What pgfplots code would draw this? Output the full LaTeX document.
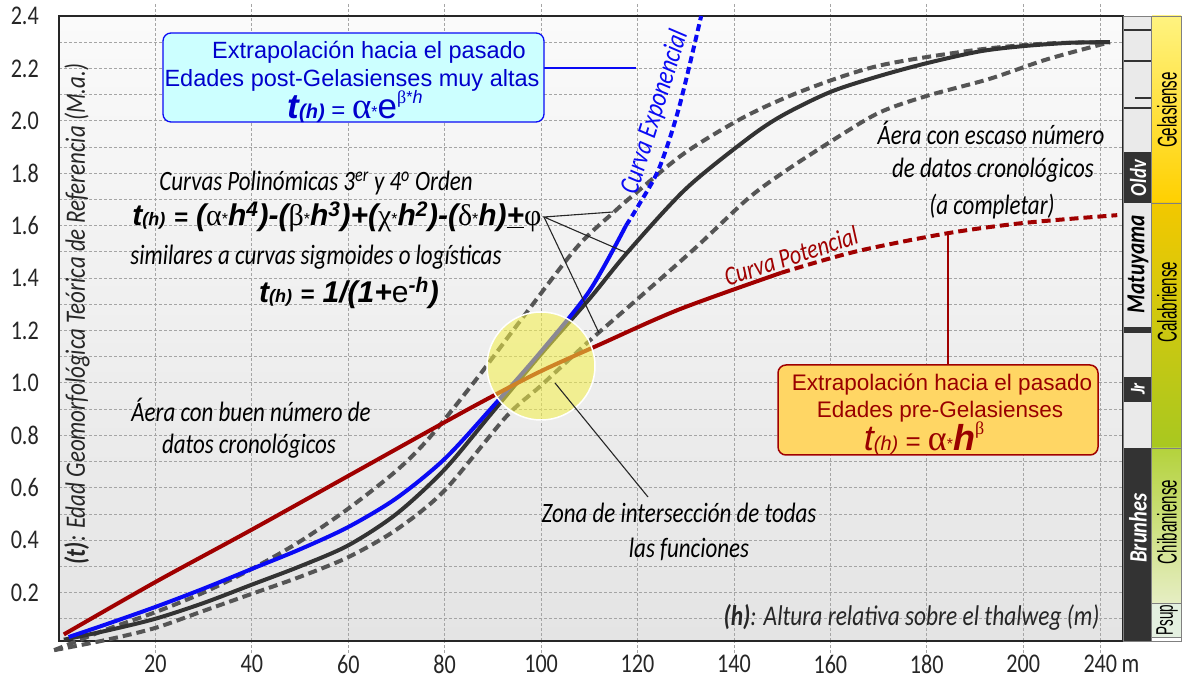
\documentclass[border=0pt]{standalone}
\usepackage{pgfplots}
\pgfplotsset{compat=1.18}
\usepackage{pgfplotstable}
\usepackage{fontspec}
\usepackage{graphicx}
\setmainfont[FakeStretch=0.82]{Carlito}
\newfontfamily\arial{Liberation Sans}
\newfontfamily\narrow[FakeStretch=0.56]{Liberation Sans}
\newfontfamily\greek{Liberation Serif}
\newcommand\fs[1]{\fontsize{#1}{#1}\selectfont}
\newcommand\gk[1]{{\greek\mdseries\upshape #1}}
\newcommand\mult{{\arial\mdseries\upshape\fs{16}\raisebox{1pt}{*}}}

\definecolor{bgtop}{RGB}{250,250,250}
\definecolor{bgbot}{RGB}{228,228,228}
\definecolor{gridc}{RGB}{165,165,165}
\definecolor{polyg}{RGB}{85,85,85}
\definecolor{sigk}{RGB}{51,51,51}
\definecolor{potred}{RGB}{160,0,0}
\definecolor{expblue}{RGB}{10,10,245}
\definecolor{boxblue}{RGB}{0,0,204}
\definecolor{boxcyan}{RGB}{204,255,255}
\definecolor{boxorange}{RGB}{255,214,100}
\definecolor{boxred}{RGB}{153,0,0}
\definecolor{magk}{RGB}{51,51,51}
\definecolor{magl}{RGB}{234,234,234}
\definecolor{gelt}{RGB}{255,243,128}
\definecolor{gelb}{RGB}{255,208,0}
\definecolor{calt}{RGB}{242,200,0}
\definecolor{calb}{RGB}{168,200,32}
\definecolor{chit}{RGB}{180,210,60}
\definecolor{chib}{RGB}{230,238,195}
\definecolor{psup}{RGB}{228,240,224}

% h (m) versus t (M.a.)
\pgfplotstableread{
h t
1 0.02
10 0.055
20 0.10
30 0.16
40 0.23
50 0.30
60 0.38
70 0.50
80 0.67
90 0.89
100 1.11
110 1.32
118 1.50
130 1.74
142.7 1.93
150 2.02
160 2.11
170 2.17
180 2.22
191 2.265
200 2.285
210 2.298
218 2.30
}\sigmoid

\pgfplotstableread{
h t
-1 -0.02
10 0.06
20 0.125
30 0.20
40 0.29
50 0.395
60 0.52
70 0.665
76.8 0.79
86.4 1.01
95 1.22
107.3 1.515
115 1.65
120 1.73
130 1.88
142.7 2.02
155 2.12
170 2.21
190 2.27
205 2.295
218 2.30
}\polyA

\pgfplotstableread{
h t
-1 -0.02
10 0.02
20 0.065
30 0.13
40 0.195
50 0.26
60 0.335
70 0.44
80 0.59
92.7 0.87
100 0.99
110 1.16
120 1.32
132 1.515
142.7 1.70
150 1.80
160 1.92
170 2.03
180 2.095
193 2.16
205 2.235
218 2.30
}\polyB

\pgfplotstableread{
h t
2 0.03
10 0.08
20 0.145
30 0.215
40 0.29
50 0.365
60 0.45
70 0.56
80 0.71
90 0.91
100 1.12
110 1.35
117.6 1.60
}\expsolid

\pgfplotstableread{
h t
117.6 1.60
120.3 1.68
124.5 1.82
128.6 2.05
133.2 2.40
}\expdash

\pgfplotstableread{
h t
1 0.04
20 0.24
40 0.44
60 0.645
80 0.85
90 0.95
100 1.045
112 1.145
128.6 1.28
149.8 1.42
}\powsolid

\pgfplotstableread{
h t
149.8 1.42
165 1.50
184 1.57
200 1.61
219.5 1.64
}\powdash

\begin{document}
\begin{tikzpicture}
\begin{axis}[
  scale only axis, width=1064pt, height=625pt,
  xmin=0, xmax=220.7, ymin=0.015, ymax=2.4,
  clip=false,
  axis line style={draw=black!85, line width=1.6pt},
  axis background/.style={shade, top color=bgtop, bottom color=bgbot},
  xtick={20,40,60,80,100,120,140,160,180,200,216},
  xticklabels={20,40,60,80,100,120,140,160,180,200,{240\rlap{\,m}}},
  ytick={0.2,0.4,0.6,0.8,1.0,1.2,1.4,1.6,1.8,2.0,2.2,2.4},
  yticklabels={0.2,0.4,0.6,0.8,1.0,1.2,1.4,1.6,1.8,2.0,2.2,2.4},
  minor ytick={0.1,0.3,0.5,0.7,0.9,1.1,1.3,1.5,1.7,1.9,2.1,2.3},
  grid=both,
  grid style={gridc, dash pattern=on 3pt off 2pt, line width=0.8pt},
  major grid style={gridc, dash pattern=on 3pt off 2pt, line width=0.8pt},
  minor grid style={gridc, dash pattern=on 3pt off 2pt, line width=0.8pt},
  xtick align=outside,
  major tick length=12pt, minor tick length=0pt,
  xtick style={gridc, dash pattern=on 3pt off 2pt, line width=0.8pt},
  ytick style={draw=none},
  xticklabel style={font=\fs{27}, text=black!85, anchor=north, inner sep=0pt, yshift=-2pt},
  yticklabel style={font=\fs{27}, text=black!85, anchor=east, inner sep=0pt, xshift=-20pt},
]
\addplot[polyg, line width=4pt, dash pattern=on 9pt off 5pt, smooth] table {\polyA};
\addplot[polyg, line width=4pt, dash pattern=on 9pt off 5pt, smooth] table {\polyB};
\addplot[sigk, line width=4pt, smooth] table {\sigmoid};
\addplot[expblue, line width=4pt, smooth] table {\expsolid};
\addplot[expblue, line width=4pt, dash pattern=on 7pt off 4pt, smooth] table {\expdash};
\addplot[potred, line width=4pt, smooth] table {\powsolid};
\addplot[potred, line width=4pt, dash pattern=on 9pt off 5pt, smooth] table {\powdash};
\end{axis}

\begin{scope}[x=1pt, y=-1pt, shift={(-59pt,641pt)}]
% zone where all fitted functions meet
\fill[fill={rgb,255:red,245;green,240;blue,70}, fill opacity=0.55] (541,366) circle (54pt);
\draw[white, line width=1.5pt] (541,366) circle (54pt);

% axis titles
\node[rotate=90, font=\fs{28}\itshape, text=black!85] at (77,314) {\textbf{(t)}: Edad Geomorfológica Teórica de Referencia (M.a.)};
\node[font=\fs{28.5}\itshape, text=black!85, anchor=east] at (1103,617) {\textbf{(h)}: Altura relativa sobre el thalweg (m)};

% polynomial / logistic description
\node[font=\fs{28}\itshape] at (316,183) {Curvas Polinómicas 3\textsuperscript{er} y 4\textsuperscript{o} Orden};
\node at (337,217) {\arial\bfseries\itshape\fs{30}t{\fs{18}(h)} {\fs{24}=} (\gk{α}\mult h\textsuperscript{4})-(\gk{β}\mult h\textsuperscript{3})+(\gk{χ}\mult h\textsuperscript{2})-(\gk{δ}\mult h)\underline{+}\gk{φ}};
\node[font=\fs{28}\itshape] at (316,257) {similares a curvas sigmoides o logísticas};
\node at (349,293) {\arial\bfseries\itshape\fs{30}t{\fs{18}(h)} {\fs{24}=} 1/(1+{\mdseries\upshape e}\textsuperscript{-h})};
\draw[black!85, line width=1.1pt] (613,212) -- (544,217) -- (627,253);
\draw[black!85, line width=1.1pt] (544,217) -- (599,333);

% data density notes
\node[font=\fs{28}\itshape] at (251,410) {Áera con buen número de};
\node[font=\fs{28}\itshape] at (249,446) {datos cronológicos};
\node[font=\fs{28}\itshape] at (991,133) {Áera con escaso número};
\node[font=\fs{28}\itshape] at (993,170) {de datos cronológicos};
\node[font=\fs{28}\itshape] at (992,207) {(a completar)};
\node[font=\fs{28}\itshape] at (679,513) {Zona de intersección de todas};
\node[font=\fs{28}\itshape] at (689,549) {las funciones};
\draw[black!85, line width=1.1pt] (555,383) -- (648,497);

% curve names
\node[rotate=72.6, font=\fs{28}\itshape, text=expblue] at (655,112) {Curva Exponencial};
\node[rotate=18.2, font=\fs{27}\itshape, text=potred] at (791,256) {Curva Potencial};

% exponential extrapolation box
\draw[expblue, line width=1.2pt] (544,68) -- (636,68);
\draw[draw=expblue, line width=1.3pt, fill=boxcyan, rounded corners=8pt] (163,33) rectangle (544,122);
\node[text=boxblue, font=\arial\fs{23.5}] at (369,52) {Extrapolación hacia el pasado};
\node[text=boxblue, font=\arial\fs{23.5}] at (352,80) {Edades post-Gelasienses muy altas};
\node[text=boxblue] at (355,107) {{\arial\bfseries\itshape\fs{35}t}{\arial\bfseries\itshape\fs{20}(h)}{\arial\fs{24} = }{\greek\fs{37}α}\mult{\arial\fs{35}e}\raisebox{15pt}{\fs{18}\gk{β}\mult{\arial\itshape h}}};

% power-law extrapolation box
\draw[potred, line width=1.2pt] (948,365) -- (948,235);
\draw[draw=potred, line width=1.5pt, fill=boxorange, rounded corners=8pt] (778,365) rectangle (1098,455);
\node[text=boxred, font=\arial\fs{22.5}] at (942,385) {Extrapolación hacia el pasado};
\node[text=boxred, font=\arial\fs{22.5}] at (940,412) {Edades pre-Gelasienses};
\node[text=boxred] at (924,438) {{\arial\itshape\fs{36}t}{\arial\itshape\fs{20}(h)}{\arial\fs{26} = }{\greek\fs{36}α}\mult{\arial\bfseries\itshape\fs{36}h}\raisebox{16pt}{\greek\fs{18}β}};

% palaeomagnetic column
\fill[magl] (1123.5,16) rectangle (1151,641);
\fill[magk] (1123.5,152) rectangle (1151,203);
\fill[magk] (1123.5,327) rectangle (1151,333);
\fill[magk] (1123.5,377) rectangle (1151,402);
\fill[magk] (1123.5,448) rectangle (1151,641);
\draw[magk, line width=2pt] (1123.5,30) -- (1151,30);
\draw[magk, line width=2pt] (1123.5,61) -- (1151,61);
\draw[magk, line width=2.5pt] (1135,98) -- (1151,98);
\draw[magk, line width=2.5pt] (1123.5,108) -- (1151,108);
\node[rotate=90, font=\fs{23}\bfseries\itshape, text=white] at (1138,178) {Oldv};
\node[rotate=90, font=\fs{26}\bfseries\itshape, text=black] at (1138,264) {Matuyama};
\node[rotate=90, font=\fs{21}\bfseries\itshape, text=white] at (1138,389) {Jr};
\node[rotate=90, font=\fs{25}\bfseries\itshape, text=white] at (1138,528) {Brunhes};

% stage column
\shade[top color=gelt, bottom color=gelb] (1152,16) rectangle (1181,203);
\shade[top color=calt, bottom color=calb] (1152,203) rectangle (1181,448);
\shade[top color=chit, bottom color=chib] (1152,448) rectangle (1181,603);
\fill[psup] (1152,603) rectangle (1181,637);
\fill[white] (1152,637) rectangle (1181,641);
\draw[gray, line width=0.8pt] (1152,203) -- (1181,203) (1152,448) -- (1181,448) (1152,603) -- (1181,603) (1152,637) -- (1181,637);
\draw[gray, line width=0.8pt] (1123.5,16) rectangle (1181,641);
\draw[gray, line width=0.8pt] (1151.5,16) -- (1151.5,641);
\node[rotate=90, font=\narrow\fs{27}, text=black] at (1167,110) {Gelasiense};
\node[rotate=90, font=\narrow\fs{27}, text=black] at (1167,302) {Calabriense};
\node[rotate=90, font=\narrow\fs{27}, text=black] at (1167,522) {Chibaniense};
\node[rotate=90, font=\narrow\fs{24}, text=black] at (1167,620) {Psup};

\pgfresetboundingbox
\path[use as bounding box] (0,0) rectangle (1182,679);
\end{scope}
\end{tikzpicture}
\end{document}
